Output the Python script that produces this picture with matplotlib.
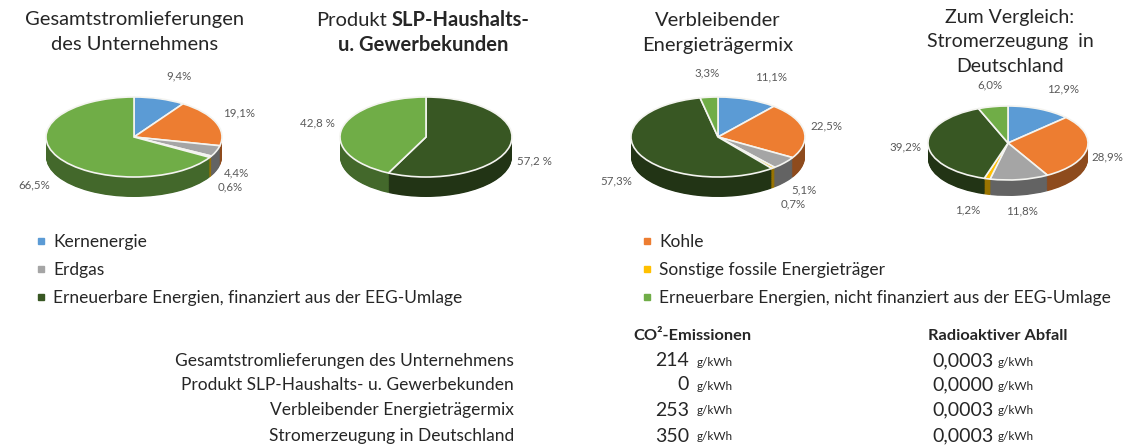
import matplotlib
matplotlib.use("Agg")
import matplotlib.pyplot as plt
import numpy as np
from matplotlib.colors import to_rgb
from matplotlib.lines import Line2D

plt.rcParams['font.family'] = ['Lato', 'DejaVu Sans']

# ---------------- data ----------------
categories = ["Kernenergie", "Kohle", "Erdgas", "Sonstige fossile Energieträger",
              "Erneuerbare Energien, finanziert aus der EEG-Umlage",
              "Erneuerbare Energien, nicht finanziert aus der EEG-Umlage"]
gesamt = [9.4, 19.1, 4.4, 0.6, 0.0, 66.5]
slp = [0.0, 0.0, 0.0, 0.0, 57.2, 42.8]
verbleibend = [11.1, 22.5, 5.1, 0.7, 57.3, 3.3]
deutschland = [12.9, 28.9, 11.8, 1.2, 39.2, 6.0]

row_labels = ["Gesamtstromlieferungen des Unternehmens",
              "Produkt SLP-Haushalts- u. Gewerbekunden",
              "Verbleibender Energieträgermix",
              "Stromerzeugung in Deutschland"]
co2 = [214, 0, 253, 350]
radio = [0.0003, 0.0000, 0.0003, 0.0003]

# ---------------- style ----------------
top_colors = ['#5B9BD5', '#ED7D31', '#A5A5A5', '#FFC000', '#385723', '#70AD47']
side_colors = [tuple(c * 0.6 for c in to_rgb(col)) for col in top_colors]
label_color = '#595959'
text_color = '#262626'

W, H = 1123, 446
fig = plt.figure(figsize=(W / 100, H / 100), dpi=100)
fig.patch.set_facecolor('white')


def fx(x):
    return x / W


def fy(y):
    return 1 - y / H


def de(v, nd=1):
    return f"{v:.{nd}f}".replace('.', ',')


def draw_pie(vals, cx, cy, rx, ry, depth, sep=''):
    pad = 1.6
    left = cx - pad * rx
    width = 2 * pad * rx
    top = cy - pad * ry
    bottom = cy + pad * ry + depth
    ax = fig.add_axes([fx(left), fy(bottom), width / W, (bottom - top) / H])
    d = depth / ry
    idx = [i for i, v in enumerate(vals) if v > 0]
    v = [vals[i] for i in idx]
    tc = [top_colors[i] for i in idx]
    sc = [side_colors[i] for i in idx]
    n = int(depth * 1.5)
    for k in range(n, 0, -1):
        ax.pie(v, colors=sc, startangle=90, counterclock=False,
               center=(0, -d * k / n), radius=1, normalize=True,
               wedgeprops=dict(linewidth=0, antialiased=True))
    ax.pie(v, colors=tc, startangle=90, counterclock=False, radius=1,
           normalize=True,
           wedgeprops=dict(edgecolor='#F4F4F0', linewidth=1.2))
    ax.set_xlim(-pad, pad)
    ax.set_ylim(-pad - d, pad)
    ax.set_aspect('auto')
    ax.axis('off')
    total = sum(v)
    cum = 0
    pos = []
    gap = 7 / rx
    xmax = (W - 32 - cx) / rx
    for val in v:
        mid = np.deg2rad(90 - (cum + val / 2) / total * 360)
        cum += val
        s, c = np.sin(mid), np.cos(mid)
        if c > 0.25:
            ha, xx = 'left', min(c + gap, xmax)
        elif c < -0.25:
            ha, xx = 'right', c - gap
        else:
            ha, xx = 'center', c * 1.22
        if s >= 0:
            yy = s * 1.6
        else:
            yy = s * 1.42 - d * min(1.0, -s * 2.5)
        pos.append([xx, yy, ha])
    # simple label collision avoidance (in pixel units)
    min_dx, min_dy = 30 / rx, 13 / ry
    for _ in range(10):
        for i in range(len(pos)):
            for j in range(i + 1, len(pos)):
                a, b = pos[i], pos[j]
                if abs(a[0] - b[0]) < min_dx and abs(a[1] - b[1]) < min_dy:
                    need = (min_dy - abs(a[1] - b[1])) / 2 + 0.01
                    if a[1] >= b[1]:
                        a[1] += need
                        b[1] -= need
                    else:
                        a[1] -= need
                        b[1] += need
    for val, (xx, yy, ha) in zip(v, pos):
        ax.text(xx, yy, de(val) + sep + '%', ha=ha, va='center',
                fontsize=8.3, color=label_color)
    return ax


draw_pie(gesamt, 134, 137, 88, 40, 20)
draw_pie(slp, 426, 137, 86, 40, 20, sep=' ')
draw_pie(verbleibend, 718, 137, 87, 40, 20)
draw_pie(deutschland, 1008, 143, 80, 37, 16)

# ---------------- titles ----------------
tfs = 14.5
fig.text(fx(135), fy(20), "Gesamtstromlieferungen", ha='center', va='center', fontsize=tfs, color=text_color)
fig.text(fx(135), fy(45), "des Unternehmens", ha='center', va='center', fontsize=tfs, color=text_color)
ta = fig.text(0, fy(20), "Produkt", ha='left', va='center', fontsize=tfs, color=text_color)
tb = fig.text(0, fy(20), "SLP-Haushalts-", ha='left', va='center', fontsize=tfs, color=text_color, fontweight='bold')
fig.text(fx(423), fy(45), "u. Gewerbekunden", ha='center', va='center', fontsize=tfs, color=text_color, fontweight='bold')
fig.text(fx(718), fy(20), "Verbleibender", ha='center', va='center', fontsize=tfs, color=text_color)
fig.text(fx(718), fy(45), "Energieträgermix", ha='center', va='center', fontsize=tfs, color=text_color)
fig.text(fx(1010), fy(17), "Zum Vergleich:", ha='center', va='center', fontsize=14, color=text_color)
fig.text(fx(1010), fy(42), "Stromerzeugung  in", ha='center', va='center', fontsize=14, color=text_color)
fig.text(fx(1010), fy(66), "Deutschland", ha='center', va='center', fontsize=14, color=text_color)

fig.canvas.draw()
r = fig.canvas.get_renderer()
wa = ta.get_window_extent(r).width + 5
wb = tb.get_window_extent(r).width
x0 = 423 - (wa + wb) / 2
ta.set_x(fx(x0))
tb.set_x(fx(x0 + wa))

# ---------------- legend ----------------
def handles(ids):
    return [Line2D([], [], marker='s', linestyle='none', markersize=4,
                   markerfacecolor=top_colors[i], markeredgecolor=top_colors[i]) for i in ids]

left_ids = [0, 2, 4]
right_ids = [1, 3, 5]
for ids, xpx in ((left_ids, 36), (right_ids, 642)):
    leg = fig.legend(handles(ids), [categories[i] for i in ids], loc='upper left',
                     bbox_to_anchor=(fx(xpx), fy(234)), frameon=False, fontsize=12.5,
                     handlelength=0.55, handletextpad=0.45, labelspacing=0.68,
                     borderpad=0, borderaxespad=0)
    for t in leg.get_texts():
        t.set_color(text_color)

# ---------------- table ----------------
fig.text(fx(633), fy(336), "CO²-Emissionen", ha='left', va='center', fontsize=11.8, fontweight='bold', color=text_color)
fig.text(fx(928), fy(336), "Radioaktiver Abfall", ha='left', va='center', fontsize=11.8, fontweight='bold', color=text_color)
row_y = [361, 385, 410, 436]
for lab, c, rv, y in zip(row_labels, co2, radio, row_y):
    fig.text(fx(514), fy(y), lab, ha='right', va='center', fontsize=12.5, color=text_color)
    fig.text(fx(689), fy(y), f"{c}", ha='right', va='center', fontsize=14, color=text_color)
    fig.text(fx(697), fy(y + 1), "g/kWh", ha='left', va='center', fontsize=8.5, color=text_color)
    fig.text(fx(932), fy(y), de(rv, 4), ha='left', va='center', fontsize=14, color=text_color)
    fig.text(fx(998), fy(y + 1), "g/kWh", ha='left', va='center', fontsize=8.5, color=text_color)

fig.savefig("out.png", dpi=100)
